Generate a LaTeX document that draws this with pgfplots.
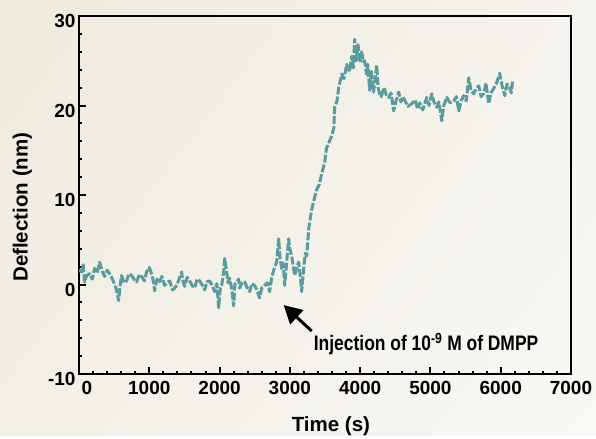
\documentclass[border=0pt]{standalone}
\usepackage{fontspec}
\setmainfont{Liberation Sans}
\newfontfamily\narrowfont[FakeStretch=0.83]{Liberation Sans}
\usepackage{pgfplots}
\pgfplotsset{compat=1.18}
\usetikzlibrary{arrows.meta,shadings}
\definecolor{bgUL}{RGB}{238,234,221}
\definecolor{bgUR}{RGB}{245,243,237}
\definecolor{bgLL}{RGB}{242,239,230}
\definecolor{bgLR}{RGB}{249,248,244}
\definecolor{lineteal}{RGB}{90,155,160}
\begin{document}
\begin{tikzpicture}
\shade[upper left=bgUL, upper right=bgUR, lower left=bgLL, lower right=bgLR] (0,0) rectangle (596pt,435pt);
\begin{axis}[
  at={(79pt,61pt)}, anchor=south west,
  scale only axis, width=492pt, height=358pt,
  xmin=0, xmax=7000, ymin=-10, ymax=30,
  xtick={0,1000,...,7000}, ytick={-10,0,10,20,30},
  xticklabels={\hspace{16pt}0,1000,2000,3000,4000,5000,6000,7000},
  minor x tick num=4, minor y tick num=4,
  tick pos=left, tick align=inside,
  major tick length=7pt, minor tick length=3pt,
  tick style={line width=2pt, black},
  axis line style={line width=2.5pt},
  /pgf/number format/assume math mode=true,
  /pgf/number format/set thousands separator={},
  ticklabel style={font=\fontsize{19}{19}\selectfont\bfseries},
  yticklabel style={yshift=-5pt},
  xticklabel style={yshift=-4pt},
  xlabel={Time (s)}, ylabel={Deflection (nm)},
  label style={font=\fontsize{20.5}{21}\selectfont\bfseries},
  xlabel style={at={(axis description cs:0.512,-0.145)}, anchor=center},
  ylabel style={at={(axis description cs:-0.115,0.466)}, anchor=center, rotate=0},
]
\addplot[lineteal, line width=3pt, dash pattern=on 8pt off 2pt, line join=round] coordinates {
(0,1.6)(37,1.4)(60,2.2)(80,0.3)(110,1.0)(151,1.2)(190,0.6)(222,1.8)(260,1.3)(293,2.5)
(330,1.5)(364,0.9)(400,1.6)(436,1.2)(470,0.7)(492,0.3)(530,-0.5)(564,-1.8)(590,0.2)(606,1.0)
(640,0.2)(677,0.4)(710,1.2)(749,1.0)(790,0.5)(820,0.3)(860,1.1)(891,0.9)(930,0.4)(962,1.4)
(1000,1.9)(1033,1.2)(1055,0.5)(1076,-0.7)(1110,0.6)(1147,0.3)(1180,0.9)(1218,-0.1)(1250,0.2)(1290,0.4)
(1330,-0.6)(1361,-0.4)(1389,-0.1)(1420,0.5)(1460,1.4)(1480,0.3)(1503,-0.2)(1540,0.8)(1574,0.4)(1610,-0.1)
(1645,-0.4)(1680,0.6)(1717,0.4)(1750,0.0)(1788,-0.6)(1820,0.3)(1859,0.4)(1900,-0.2)(1930,-0.8)(1960,0.1)
(1987,-2.6)(2010,-0.4)(2030,-0.1)(2060,1.5)(2072,2.9)(2101,1.4)(2120,0.2)(2143,0.7)(2170,-0.3)(2200,-2.4)
(2220,0.1)(2243,0.3)(2270,0.6)(2286,-0.4)(2320,0.2)(2357,0.3)(2390,-0.3)(2428,-0.8)(2460,0.1)(2499,-0.1)
(2530,-0.6)(2570,-1.5)(2600,-0.4)(2641,-0.1)(2680,0.2)(2712,-0.8)(2741,0.7)(2770,1.6)(2812,2.5)(2841,5.1)
(2860,3.0)(2883,1.8)(2905,2.4)(2926,-0.1)(2950,2.1)(2983,5.1)(3000,4.0)(3026,3.2)(3050,2.0)(3068,1.0)
(3100,1.9)(3125,2.5)(3150,0.8)(3168,-0.8)(3197,1.8)(3220,3.5)(3240,3.2)(3268,6.2)(3290,7.4)(3311,8.4)
(3345,9.5)(3381,10.6)(3420,11.2)(3453,12.4)(3495,13.6)(3520,15.2)(3552,15.8)(3590,16.5)(3624,17.4)(3638,19.8)
(3670,20.5)(3695,22.0)(3738,23.5)(3770,23.0)(3809,24.6)(3850,23.8)(3880,25.5)(3905,24.2)(3922,27.4)(3945,25.0)
(3970,26.8)(4000,24.8)(4022,26.0)(4045,24.9)(4065,25.0)(4090,23.5)(4110,24.6)(4136,21.7)(4160,23.8)(4190,21.5)
(4236,24.5)(4255,22.0)(4278,21.3)(4300,21.0)(4340,22.0)(4370,21.2)(4407,20.9)(4440,21.4)(4478,19.4)(4510,20.5)
(4549,21.5)(4580,20.4)(4610,21.0)(4634,20.6)(4680,19.9)(4734,20.2)(4780,20.6)(4820,19.6)(4848,20.3)(4890,19.5)
(4947,20.9)(4980,20.0)(5019,21.3)(5050,20.4)(5090,19.8)(5120,20.4)(5161,18.3)(5190,20.0)(5232,20.9)(5280,20.3)
(5332,20.5)(5370,21.0)(5403,19.4)(5440,20.6)(5474,21.1)(5510,20.5)(5545,23.1)(5580,21.6)(5616,21.3)(5650,21.9)
(5687,22.2)(5720,21.0)(5758,21.3)(5790,22.5)(5829,20.2)(5860,21.4)(5900,21.9)(5940,22.5)(5985,23.6)(6020,22.2)
(6058,21.1)(6090,22.4)(6128,22.0)(6150,21.4)(6171,22.8)
};
\draw[line width=3pt, -{Triangle[length=18pt,width=19pt]}] (axis cs:3311,-5.2) -- (axis cs:2912,-2.3);
\node[anchor=base west, inner sep=0pt, font=\narrowfont\fontsize{21}{21}\selectfont\bfseries] at (axis cs:3339,-7.4) {Injection of 10\textsuperscript{-9} M of DMPP};
\end{axis}
\end{tikzpicture}
\end{document}
